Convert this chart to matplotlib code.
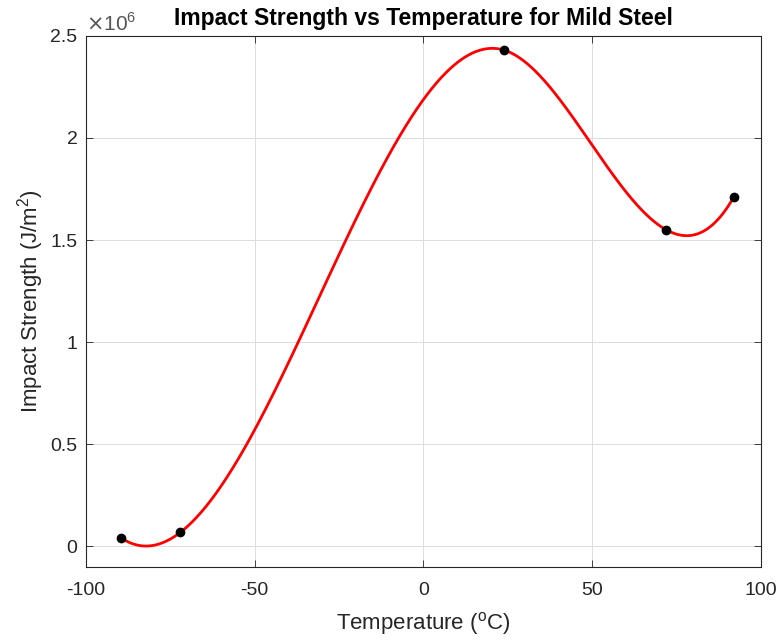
import numpy as np
import matplotlib.pyplot as plt

plt.rcParams['font.family'] = ['Liberation Sans', 'DejaVu Sans']
plt.rcParams['axes.unicode_minus'] = False

# measured points
temperature = [-89.5, -72, 24, 72, 92]
strength = [0.04e6, 0.068e6, 2.43e6, 1.55e6, 1.71e6]

x_ticks = [-100, -50, 0, 50, 100]
y_ticks = [0, 0.5e6, 1e6, 1.5e6, 2e6, 2.5e6]
y_ticklabels = ['0', '0.5', '1', '1.5', '2', '2.5']


def spline_nak(x, y, xq):
    # cubic spline, not-a-knot ends (like matlab spline)
    x = np.asarray(x, float)
    y = np.asarray(y, float)
    n = len(x)
    h = np.diff(x)
    A = np.zeros((n, n))
    r = np.zeros(n)
    for i in range(1, n - 1):
        A[i, i - 1] = h[i - 1]
        A[i, i] = 2 * (h[i - 1] + h[i])
        A[i, i + 1] = h[i]
        r[i] = 6 * ((y[i + 1] - y[i]) / h[i] - (y[i] - y[i - 1]) / h[i - 1])
    A[0, 0], A[0, 1], A[0, 2] = h[1], -(h[0] + h[1]), h[0]
    A[-1, -3], A[-1, -2], A[-1, -1] = h[-1], -(h[-2] + h[-1]), h[-2]
    M = np.linalg.solve(A, r)
    k = np.clip(np.searchsorted(x, xq) - 1, 0, n - 2)
    t0 = xq - x[k]
    t1 = x[k + 1] - xq
    hk = h[k]
    return (M[k] * t1**3 + M[k + 1] * t0**3) / (6 * hk) \
        + (y[k] / hk - M[k] * hk / 6) * t1 + (y[k + 1] / hk - M[k + 1] * hk / 6) * t0


xf = np.linspace(min(temperature), max(temperature), 500)
yf = spline_nak(temperature, strength, xf)

fig = plt.figure(figsize=(7.81, 6.41), dpi=100)
ax = fig.add_axes([0.110, 0.116, 0.864, 0.828])

ax.plot(xf, yf, color='red', linewidth=2.0, zorder=3)
ax.plot(temperature, strength, 'o', color='black', markersize=6, zorder=4)

ax.set_xlim(-100, 100)
ax.set_ylim(-0.1e6, 2.5e6)
ax.set_xticks(x_ticks)
ax.set_yticks(y_ticks)
ax.set_yticklabels(y_ticklabels)

tc = '#262626'
ax.tick_params(direction='in', top=True, right=True, labelsize=14, colors=tc, length=5, width=0.6)
ax.tick_params(axis='x', pad=11)
ax.tick_params(axis='y', pad=6)
for s in ax.spines.values():
    s.set_color(tc)
    s.set_linewidth(0.8)
ax.grid(True, color='#dcdcdc', linewidth=0.7)
ax.set_axisbelow(True)

ax.text(0.0, 1.003, r'$\times$10$^{\mathregular{6}}$', transform=ax.transAxes, fontsize=15,
        color='#555555', ha='left', va='bottom', math_fontfamily='dejavusans')

ax.set_title('Impact Strength vs Temperature for Mild Steel', fontsize=16.5, fontweight='bold', pad=8)
ax.set_xlabel(r'Temperature ($^{\mathregular{o}}$C)', fontsize=16, color=tc, labelpad=8)
ax.set_ylabel(r'Impact Strength (J/m$^{\mathregular{2}}$)', fontsize=16, color=tc, labelpad=3)

fig.savefig('out.png', dpi=100)
